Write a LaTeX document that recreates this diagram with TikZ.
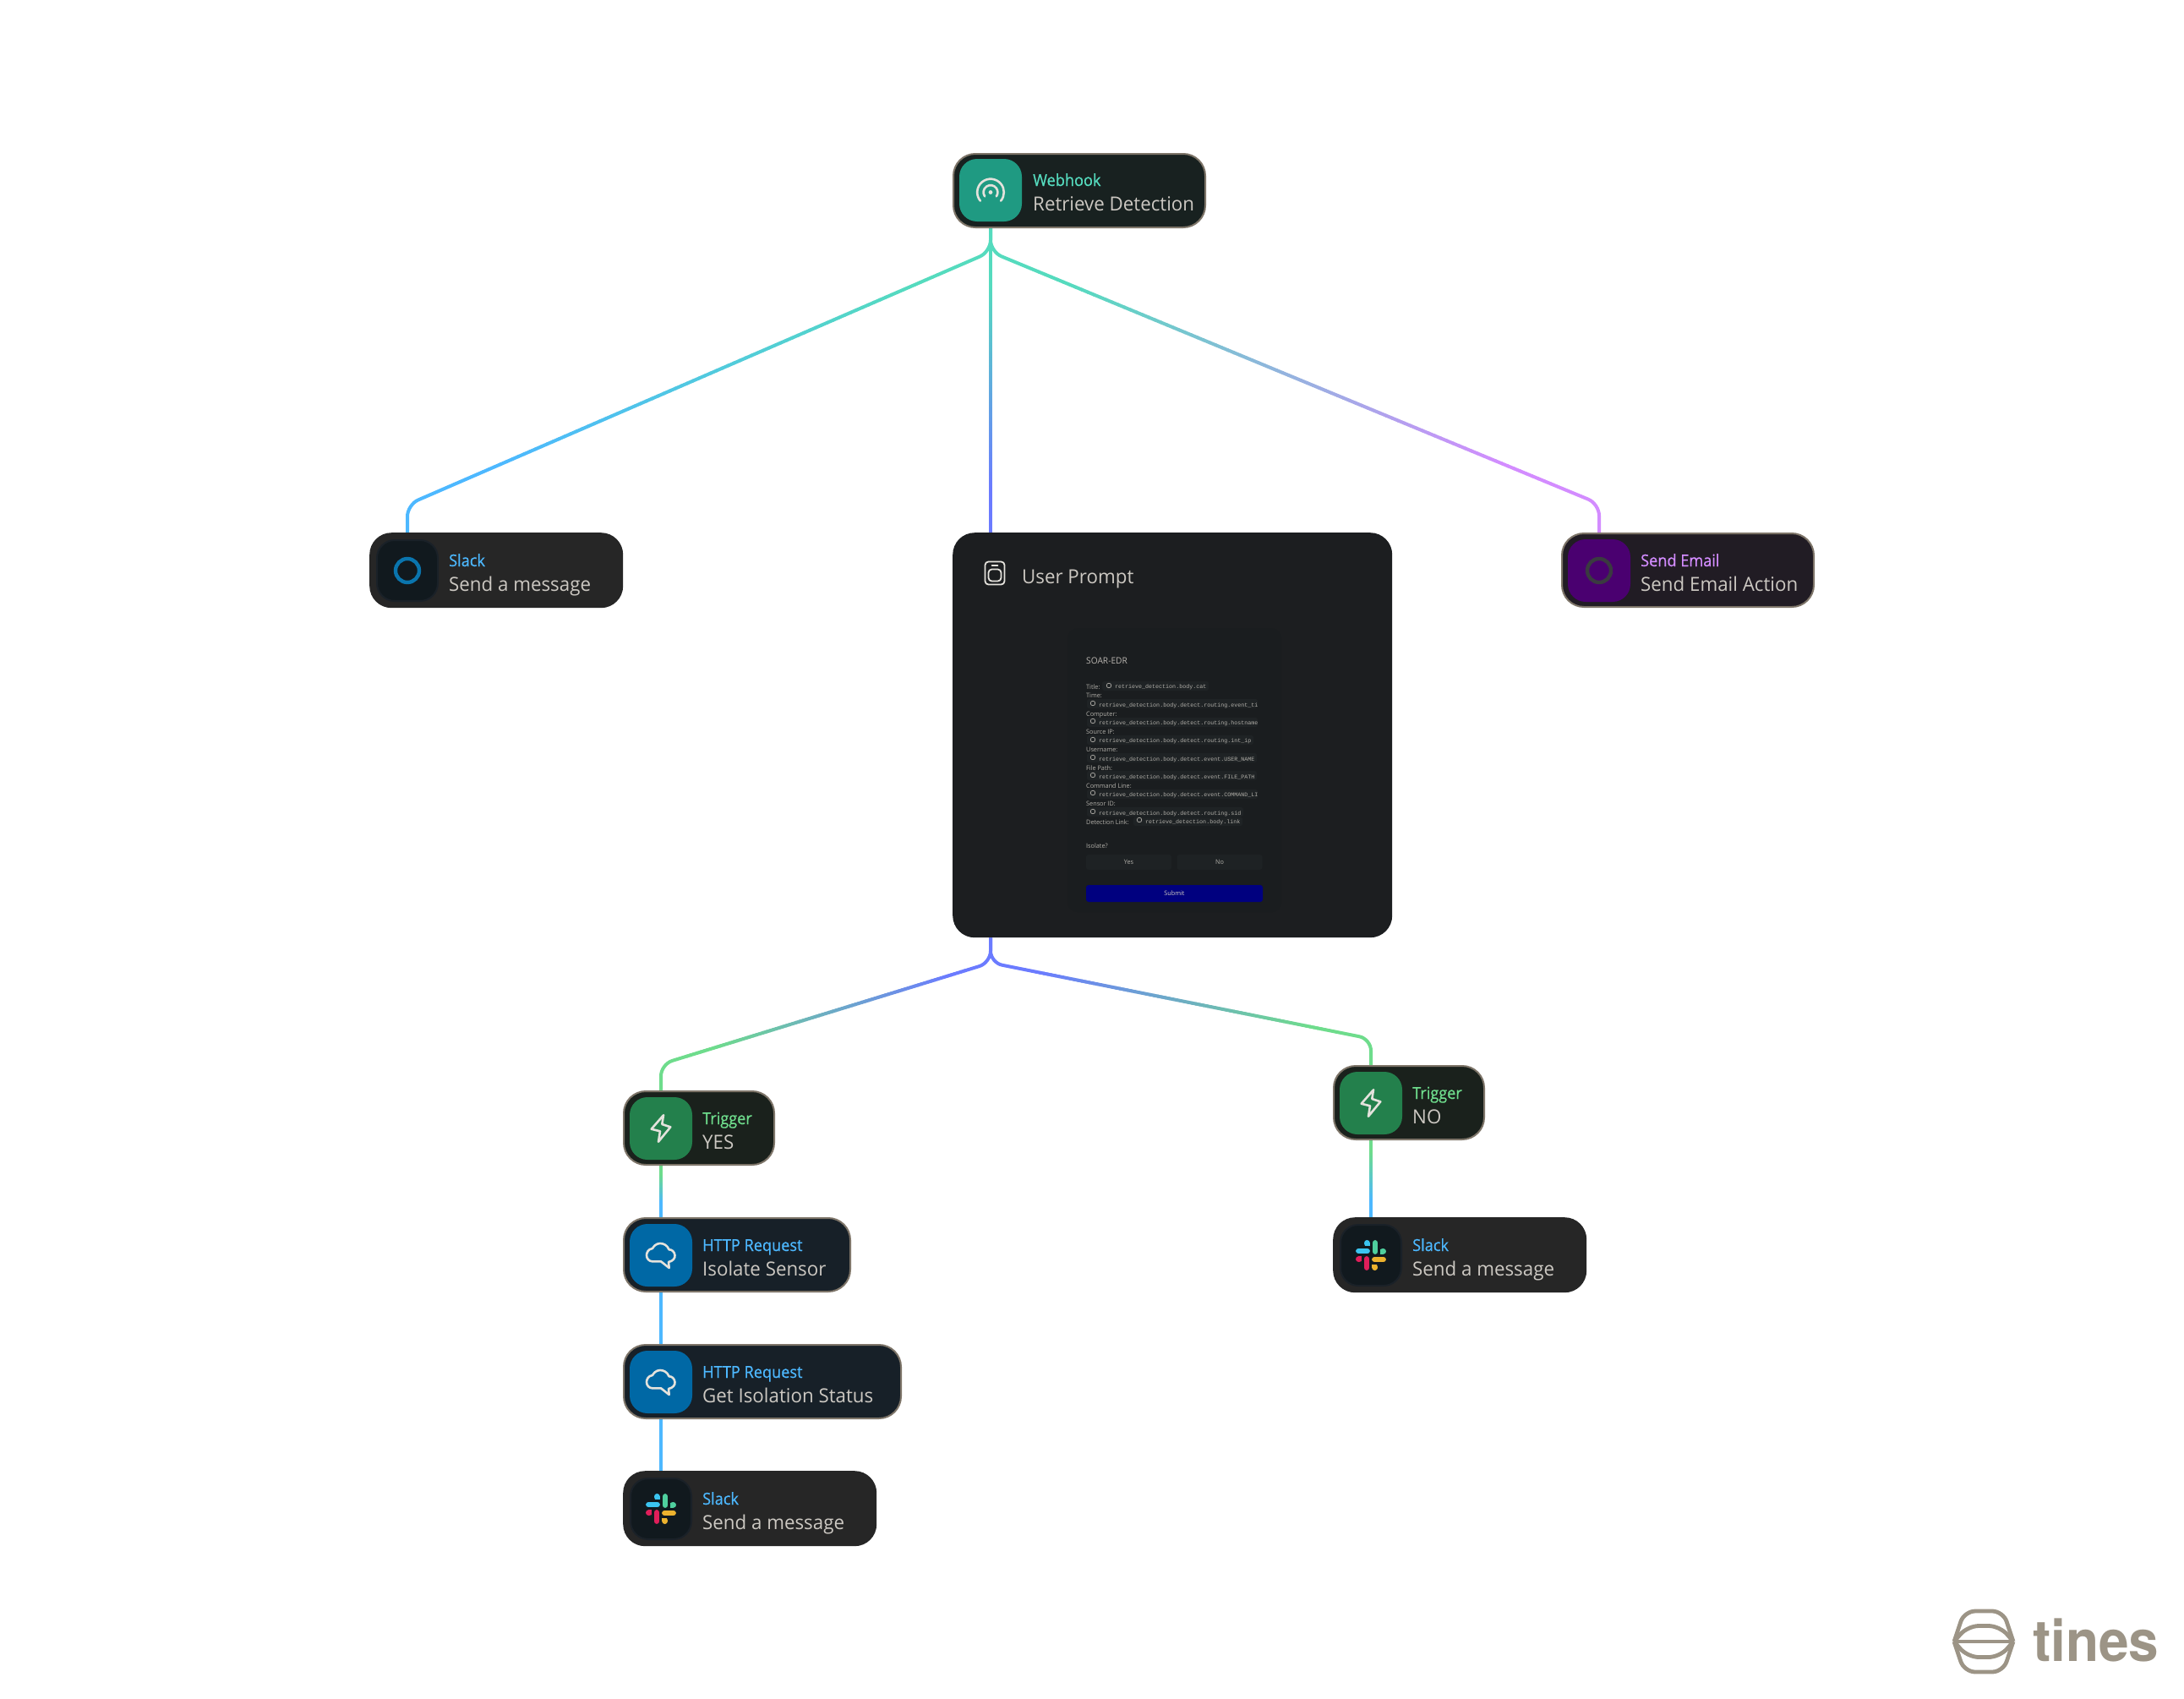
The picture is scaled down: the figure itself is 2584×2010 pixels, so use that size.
\documentclass[tikz,border=0pt]{standalone}
\usepackage{fontspec}
\usepackage{xcolor}
\usetikzlibrary{calc,backgrounds}
\newfontfamily\uifont[FakeStretch=0.97]{Open Sans}
\newfontfamily\uititlefont[FakeBold=0.5,FakeStretch=0.93]{Open Sans}
\newfontfamily\codefont{Liberation Mono}
\newfontfamily\brandfont[FakeStretch=0.94]{TeX Gyre Heros}
\definecolor{teal}{HTML}{55DBBE}
\definecolor{sky}{HTML}{4DB8FF}
\definecolor{indig}{HTML}{6B7BFF}
\definecolor{violetline}{HTML}{D38CFF}
\definecolor{greenline}{HTML}{6EDC8C}
\definecolor{edge}{HTML}{7D7468}
\definecolor{subtext}{HTML}{CCC8C2}
\definecolor{glyph}{HTML}{E4E2DC}
\definecolor{brand}{HTML}{9C9486}
\definecolor{promptfill}{HTML}{1C1E20}
\definecolor{formfill}{HTML}{1A1D1F}
\definecolor{chipfill}{HTML}{1F2325}
\definecolor{btnfill}{HTML}{1E2224}
\definecolor{submitfill}{HTML}{00007F}
\definecolor{dimtext}{HTML}{B0AEA8}
\tikzset{
  card/.style={rectangle,rounded corners=26pt,inner sep=0pt,anchor=north west,minimum height=89pt},
  edged/.style={card,draw=edge,line width=2pt,minimum height=87pt},
  tile/.style={rectangle,rounded corners=21pt,inner sep=0pt,minimum width=74pt,minimum height=74pt},
  darktile/.style={tile,fill={rgb,255:red,17;green,25;blue,30},draw={rgb,255:red,26;green,33;blue,40},line width=2pt,minimum width=72pt,minimum height=72pt},
  kind/.style={anchor=base west,inner sep=0pt,font=\uititlefont\fontsize{19.5}{20}\selectfont},
  named/.style={anchor=base west,inner sep=0pt,text=subtext,font=\uifont\fontsize{23}{24}\selectfont},
  wire/.style={line width=4pt},
  glyphline/.style={draw=glyph,line width=2.6pt,line join=round,line cap=round},
  code/.style={anchor=base west,inner sep=0pt,text=dimtext,font=\codefont\fontsize{6.67}{7}\selectfont},
  flabel/.style={anchor=base west,inner sep=0pt,text=dimtext,font=\uifont\fontsize{7.5}{8}\selectfont},
  chip/.style={fill=chipfill,rounded corners=2.5pt},
  btn/.style={rectangle,rounded corners=3pt,fill=btnfill,inner sep=0pt,minimum height=18pt,minimum width=101pt,text=dimtext,font=\uifont\fontsize{7.5}{8}\selectfont},
}
% gradient connector: from -- v1 -- v2 -- to, colour A to colour B along v1..v2
\newcommand{\gradwire}[6]{%
  \draw[wire,#5,rounded corners=14pt] (#1) -- (#2) -- ($(#2)!0.08!(#3)$);
  \foreach \k in {8,...,91}{%
    \pgfmathtruncatemacro{\mixv}{max(0,min(100,(\k-12)*100/72))}%
    \pgfmathsetmacro{\tstart}{\k/100}%
    \pgfmathsetmacro{\tend}{(\k+1)/100}%
    \draw[wire,line cap=round,color=#6!\mixv!#5] ($(#2)!\tstart!(#3)$) -- ($(#2)!\tend!(#3)$);
  }
  \draw[wire,#6,rounded corners=14pt] ($(#2)!0.92!(#3)$) -- (#3) -- (#4);
}
\newcommand{\boltglyph}[1]{\draw[glyphline,shift={(#1)}] (3,-15.7) -- (-11.3,0.7) -- (-1,3.3) -- (-3,15.7) -- (11.3,-1.7) -- (1.3,-5) -- cycle;}
\newcommand{\cloudglyph}[1]{\draw[glyphline,shift={(#1)}] (-10.3,7.3) -- (0,7.3) -- (9.7,15) -- (9,8) .. controls (14,7) and (17,3.5) .. (16.5,0) .. controls (16,-4) and (13,-7) .. (9.5,-6.7) .. controls (7.5,-12) and (3,-14) .. (-1,-14) .. controls (-6,-14) and (-9,-10) .. (-10,-8) .. controls (-15,-7.5) and (-17,-3) .. (-17,0) .. controls (-17,4) and (-14,7.3) .. (-10.3,7.3) -- cycle;}
\newcommand{\slackpart}[3]{%
  \begin{scope}[shift={(#1)},rotate=#2]
    \draw[#3,line width=6.6pt,line cap=round] (-14.6,-5) -- (-4.4,-5);
    \fill[#3] (-4.6,-14.6) circle[radius=3.4pt];
    \fill[#3] (-4.6,-14.6) rectangle (-1.2,-11.2);
    \fill[#3] (-8,-14.6) -- (-4.6,-14.6) -- (-4.6,-11.2) -- (-7,-11.2) -- cycle;
  \end{scope}}
\newcommand{\slackglyph}[1]{%
  \slackpart{#1}{0}{slackblue}\slackpart{#1}{-90}{slackgreen}\slackpart{#1}{180}{slackyellow}\slackpart{#1}{90}{slackred}}
\definecolor{slackblue}{HTML}{3BC4F0}
\definecolor{slackgreen}{HTML}{4FCF9E}
\definecolor{slackyellow}{HTML}{ECB22E}
\definecolor{slackred}{HTML}{E01E5A}
\newcommand{\chipicon}[1]{\draw[dimtext,line width=0.7pt] (#1) circle[radius=2.8pt];}
\begin{document}
\begin{tikzpicture}[x=1pt,y=-1pt]
\useasboundingbox (0,0) rectangle (2584,2010);

% ---- cards
\node[edged,fill={rgb,255:red,24;green,33;blue,32},minimum width=298pt] (hook) at (1127,181) {};
\node[tile,fill={rgb,255:red,31;green,154;blue,130}] (hooktile) at (1172,225) {};
\node[kind,text=teal] (hookkind) at (1222,220) {Webhook};
\node[named] (hookname) at (1222,249) {Retrieve Detection};

\node[card,fill={rgb,255:red,38;green,38;blue,38},minimum width=300pt] (slacka) at (437,630) {};
\node[darktile] (slackatile) at (482,675) {};
\node[kind,text=sky] (slackakind) at (531,670) {Slack};
\node[named] (slackaname) at (531,699) {Send a message};

\node[edged,fill={rgb,255:red,33;green,28;blue,36},minimum width=298pt] (mail) at (1847,630) {};
\node[tile,fill={rgb,255:red,74;green,0;blue,112}] (mailtile) at (1892,675) {};
\node[kind,text=violetline] (mailkind) at (1941,670) {Send Email};
\node[named] (mailname) at (1941,699) {Send Email Action};

\node[card,fill=promptfill,minimum width=520pt,minimum height=479pt] (prompt) at (1127,630) {};

\node[edged,fill={rgb,255:red,26;green,33;blue,28},minimum width=178pt] (yes) at (737,1290) {};
\node[tile,fill={rgb,255:red,35;green,128;blue,76}] (yestile) at (782,1335) {};
\node[kind,text=greenline] (yeskind) at (831,1330) {Trigger};
\node[named] (yesname) at (831,1359) {YES};

\node[edged,fill={rgb,255:red,26;green,33;blue,28},minimum width=178pt] (no) at (1577,1260) {};
\node[tile,fill={rgb,255:red,35;green,128;blue,76}] (notile) at (1622,1305) {};
\node[kind,text=greenline] (nokind) at (1671,1300) {Trigger};
\node[named] (noname) at (1671,1329) {NO};

\node[edged,fill={rgb,255:red,23;green,32;blue,40},minimum width=268pt] (iso) at (737,1440) {};
\node[tile,fill={rgb,255:red,0;green,104;blue,165}] (isotile) at (782,1485) {};
\node[kind,text=sky] (isokind) at (831,1480) {HTTP Request};
\node[named] (isoname) at (831,1509) {Isolate Sensor};

\node[edged,fill={rgb,255:red,23;green,32;blue,40},minimum width=328pt] (stat) at (737,1590) {};
\node[tile,fill={rgb,255:red,0;green,104;blue,165}] (stattile) at (782,1635) {};
\node[kind,text=sky] (statkind) at (831,1630) {HTTP Request};
\node[named] (statname) at (831,1659) {Get Isolation Status};

\node[card,fill={rgb,255:red,38;green,38;blue,38},minimum width=300pt] (slackb) at (737,1740) {};
\node[darktile] (slackbtile) at (782,1785) {};
\node[kind,text=sky] (slackbkind) at (831,1780) {Slack};
\node[named] (slackbname) at (831,1809) {Send a message};

\node[card,fill={rgb,255:red,38;green,38;blue,38},minimum width=300pt] (slackc) at (1577,1440) {};
\node[darktile] (slackctile) at (1622,1485) {};
\node[kind,text=sky] (slackckind) at (1671,1480) {Slack};
\node[named] (slackcname) at (1671,1509) {Send a message};

% ---- glyphs
\draw[glyphline] (1172,227.5) ++(220:15.8pt) arc[start angle=220,end angle=-40,radius=15.8pt];
\draw[glyphline] (1172,227.5) ++(215:8.4pt) arc[start angle=215,end angle=-35,radius=8.4pt];
\fill[glyph] (1172,227.5) circle[radius=2.4pt];
\draw[draw={rgb,255:red,10;green,117;blue,174},line width=4.4pt] (slackatile.center) circle[radius=14pt];
\draw[draw={rgb,255:red,58;green,58;blue,64},line width=4.4pt] (mailtile.center) circle[radius=14pt];
\boltglyph{yestile.center}
\boltglyph{notile.center}
\cloudglyph{isotile.center}
\cloudglyph{stattile.center}
\slackglyph{slackbtile.center}
\slackglyph{slackctile.center}

% ---- prompt contents
\draw[glyphline,line width=1.8pt,rounded corners=4pt] (1165.5,664.5) rectangle (1188.5,691.5);
\draw[glyphline,line width=1.8pt,rounded corners=4pt] (1169.5,673.5) rectangle (1184.5,687.5);
\draw[glyphline,line width=1.8pt] (1173.5,669) -- (1180.5,669);
\node[anchor=base west,inner sep=0pt,text=subtext,font=\uifont\fontsize{23}{24}\selectfont] (prompttitle) at (1209,690) {User Prompt};
\node[rectangle,fill=formfill,rounded corners=12pt,inner sep=0pt,anchor=north west,minimum width=253pt,minimum height=336pt] (form) at (1263,743) {};
\node[anchor=base west,inner sep=0pt,text=subtext!90!black,font=\uifont\fontsize{10.5}{11}\selectfont] (formtitle) at (1285,785) {SOAR-EDR};

\fill[chip] (1304,806) rectangle (1430,817);
\fill[chip] (1286,827) rectangle (1488,838);
\fill[chip] (1286,849) rectangle (1488,860);
\fill[chip] (1286,870) rectangle (1483,881);
\fill[chip] (1286,891) rectangle (1487,902);
\fill[chip] (1286,912) rectangle (1487,923);
\fill[chip] (1286,934) rectangle (1488,945);
\fill[chip] (1286,955) rectangle (1471,966);
\fill[chip] (1341,966.5) rectangle (1470,977);
\chipicon{1312,811} \chipicon{1293,832} \chipicon{1293,853} \chipicon{1293,875} \chipicon{1293,896} \chipicon{1293,917} \chipicon{1293,938} \chipicon{1293,960} \chipicon{1348,970}

\node[flabel] (l1) at (1285,815) {Title:};
\node[code] (c1) at (1319,814.5) {retrieve\_detection.body.cat};
\node[flabel] (l2) at (1285,825) {Time:};
\node[code] (c2) at (1300,836) {retrieve\_detection.body.detect.routing.event\_ti};
\node[flabel] (l3) at (1285,847) {Computer:};
\node[code] (c3) at (1300,857) {retrieve\_detection.body.detect.routing.hostname};
\node[flabel] (l4) at (1285,868) {Source IP:};
\node[code] (c4) at (1300,878.5) {retrieve\_detection.body.detect.routing.int\_ip};
\node[flabel] (l5) at (1285,889) {Username:};
\node[code] (c5) at (1300,900) {retrieve\_detection.body.detect.event.USER\_NAME};
\node[flabel] (l6) at (1285,911) {File Path:};
\node[code] (c6) at (1300,921) {retrieve\_detection.body.detect.event.FILE\_PATH};
\node[flabel] (l7) at (1285,932) {Command Line:};
\node[code] (c7) at (1300,942.5) {retrieve\_detection.body.detect.event.COMMAND\_LI};
\node[flabel] (l8) at (1285,953) {Sensor ID:};
\node[code] (c8) at (1300,964) {retrieve\_detection.body.detect.routing.sid};
\node[flabel] (l9) at (1285,975) {Detection Link:};
\node[code] (c9) at (1355,974.5) {retrieve\_detection.body.link};
\node[flabel] (l10) at (1285,1003) {Isolate?};
\node[btn] (byes) at (1335.5,1020) {\raisebox{-1pt}{Yes}};
\node[btn] (bno) at (1443,1020) {\raisebox{-1pt}{No}};
\node[rectangle,rounded corners=3pt,fill=submitfill,inner sep=0pt,minimum width=209pt,minimum height=20pt,text=subtext,font=\uifont\fontsize{7.5}{8}\selectfont] (submit) at (1389.5,1057) {\raisebox{-1pt}{Submit}};

% ---- connectors
\begin{scope}[on background layer]
\fill[white] (0,0) rectangle (2584,2010);
\coordinate (hookout) at (hooktile |- hook.south);
\coordinate (fork) at (1172,298);
\coordinate (left) at (482,597);
\coordinate (right) at (1892,596);
\coordinate (slackain) at (slackatile |- slacka.north);
\coordinate (mailin) at (mailtile |- mail.north);
\coordinate (promptin) at (hooktile |- prompt.north);
\gradwire{hookout}{fork}{left}{slackain}{teal}{sky}
\gradwire{hookout}{fork}{right}{mailin}{teal}{violetline}
\gradwire{hookout}{fork}{promptin}{promptin}{teal}{indig}
\coordinate (promptout) at (hooktile |- prompt.south);
\coordinate (forkb) at (1172,1139);
\coordinate (lowleft) at (782,1259);
\coordinate (lowright) at (1622,1229);
\coordinate (yesin) at (yestile |- yes.north);
\coordinate (noin) at (notile |- no.north);
\gradwire{promptout}{forkb}{lowleft}{yesin}{indig}{greenline}
\gradwire{promptout}{forkb}{lowright}{noin}{indig}{greenline}
\coordinate (yesout) at (yestile |- yes.south);
\coordinate (isoin) at (isotile |- iso.north);
\coordinate (noout) at (notile |- no.south);
\coordinate (slackcin) at (slackctile |- slackc.north);
\coordinate (yesa) at ($(yesout)+(0,6)$);
\coordinate (yesb) at ($(isoin)+(0,-6)$);
\coordinate (noa) at ($(noout)+(0,6)$);
\coordinate (nob) at ($(slackcin)+(0,-6)$);
\gradwire{yesout}{yesa}{yesb}{isoin}{greenline}{sky}
\gradwire{noout}{noa}{nob}{slackcin}{greenline}{sky}
\draw[wire,sky] (isotile |- iso.south) -- (stattile |- stat.north);
\draw[wire,sky] (stattile |- stat.south) -- (slackbtile |- slackb.north);
\end{scope}

% ---- brand
\begin{scope}[shift={(2347,1942)},draw=brand,line width=4.8pt]
\draw[rounded corners=13pt] (-35,0) -- (-23,-36) -- (23,-36) -- (35,0);
\draw[rounded corners=13pt] (-35,0) -- (-23,36) -- (23,36) -- (35,0);
\draw[rounded corners=13pt] (-35,0) -- (-19,-18.5) -- (19,-18.5) -- (35,0);
\draw[rounded corners=13pt] (-35,0) -- (-19,18.5) -- (19,18.5) -- (35,0);
\draw (-35,0) -- (35,0);
\end{scope}
\node[anchor=base west,inner sep=0pt,text=brand,font=\brandfont\bfseries\fontsize{68}{70}\selectfont] (brandname) at (2405,1965) {tines};
\end{tikzpicture}
\end{document}
